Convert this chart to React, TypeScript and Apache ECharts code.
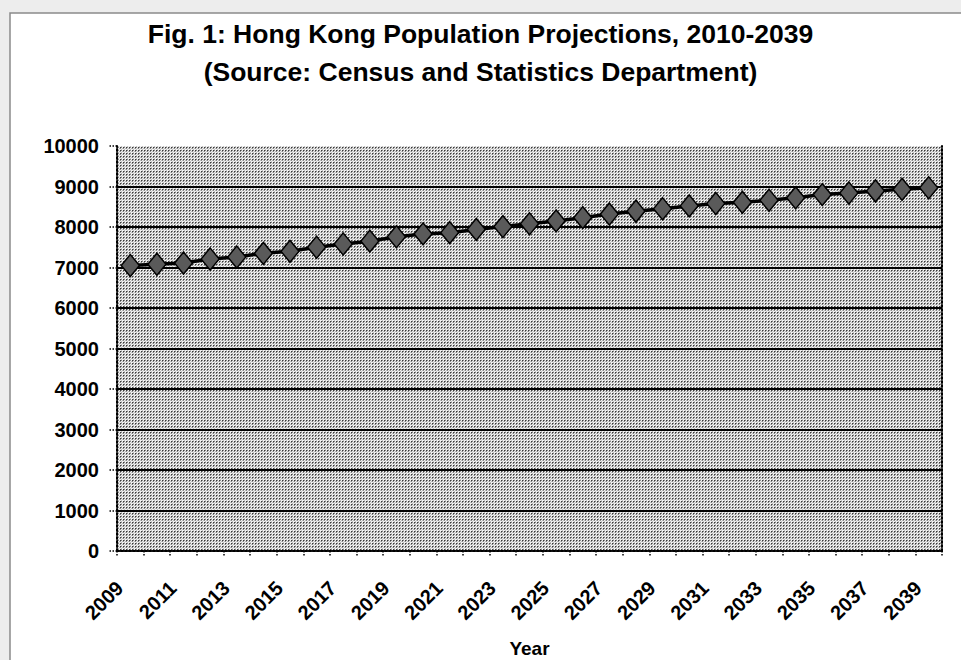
import React, { useEffect, useRef } from 'react';
import * as echarts from 'echarts';

const years = [
  '2009', '2010', '2011', '2012', '2013', '2014', '2015', '2016', '2017', '2018',
  '2019', '2020', '2021', '2022', '2023', '2024', '2025', '2026', '2027', '2028',
  '2029', '2030', '2031', '2032', '2033', '2034', '2035', '2036', '2037', '2038', '2039',
];

const population = [
  7050, 7080, 7110, 7210, 7260, 7350, 7400, 7500, 7580, 7650,
  7760, 7830, 7860, 7940, 8010, 8080, 8150, 8230, 8320, 8390,
  8450, 8520, 8580, 8610, 8660, 8720, 8800, 8840, 8890, 8930, 8970,
];

const yMin = 0;
const yMax = 10000;
const yStep = 1000;

const titleLines = [
  'Fig. 1: Hong Kong Population Projections, 2010-2039',
  '(Source: Census and Statistics Department)',
];

const FONT = '"Liberation Sans", Arial, sans-serif';

function makePattern(): HTMLCanvasElement {
  const c = document.createElement('canvas');
  c.width = 3;
  c.height = 3;
  const ctx = c.getContext('2d')!;
  ctx.fillStyle = '#f0f0f0';
  ctx.fillRect(0, 0, 3, 3);
  ctx.fillStyle = '#3a3a3a';
  ctx.fillRect(0, 0, 1, 1);
  ctx.fillStyle = '#8a8a8a';
  ctx.fillRect(1, 0, 1, 1);
  ctx.fillRect(0, 1, 1, 1);
  ctx.fillStyle = '#bdbdbd';
  ctx.fillRect(2, 1, 1, 1);
  ctx.fillRect(1, 2, 1, 1);
  return c;
}

export default function App() {
  const ref = useRef<HTMLDivElement>(null);

  useEffect(() => {
    if (!ref.current) return;
    const chart = echarts.init(ref.current, undefined, { renderer: 'svg' });
    const nLines = (yMax - yMin) / yStep + 1;
    const splitColors = Array.from({ length: nLines }, (_, i) =>
      i === 0 || i === nLines - 1 ? 'rgba(0,0,0,0)' : '#000'
    );
    chart.setOption({
      animation: false,
      backgroundColor: '#ededed',
      graphic: [
        {
          type: 'rect',
          z: -100,
          shape: { x: 10, y: 13, width: 960, height: 660 },
          style: { fill: '#ffffff', stroke: '#8a8a8a', lineWidth: 1.5 },
        },
      ],
      title: {
        text: titleLines.join('\n'),
        left: 'center',
        top: 10,
        textStyle: {
          fontFamily: FONT,
          fontSize: 26.5,
          fontWeight: 'bold',
          color: '#000',
          lineHeight: 38,
        },
      },
      grid: {
        left: 117,
        right: 19,
        top: 146,
        bottom: 109,
        containLabel: false,
        outerBoundsMode: 'none',
        show: true,
        borderWidth: 0,
        backgroundColor: { image: makePattern(), repeat: 'repeat' },
      },
      xAxis: [
        {
          type: 'category',
          data: years,
          boundaryGap: true,
          position: 'bottom',
          axisLine: { show: true, lineStyle: { color: '#000', width: 2, type: 'dotted' } },
          axisTick: { show: true, interval: 0, length: 6, lineStyle: { color: '#000', width: 1.5, type: 'dotted' } },
          axisLabel: {
            interval: 1,
            rotate: 45,
            margin: 23,
            padding: [0, 15, 0, 0],
            fontFamily: FONT,
            fontSize: 20,
            fontWeight: 'bold',
            color: '#000',
          },
          name: 'Year',
          nameLocation: 'middle',
          nameGap: 88,
          nameTextStyle: { fontFamily: FONT, fontSize: 19, fontWeight: 'bold', color: '#000' },
          splitLine: { show: false },
        },
        {
          type: 'category',
          data: years,
          position: 'top',
          axisLine: { show: true, lineStyle: { color: '#000', width: 2, type: 'dotted' } },
          axisTick: { show: false },
          axisLabel: { show: false },
          splitLine: { show: false },
        },
      ],
      yAxis: [
        {
          type: 'value',
          min: yMin,
          max: yMax,
          interval: yStep,
          position: 'left',
          axisLine: { show: true, lineStyle: { color: '#000', width: 2, type: 'dotted' } },
          axisTick: { show: true, length: 8, lineStyle: { color: '#000', width: 1.5, type: 'dotted' } },
          axisLabel: {
            margin: 18,
            fontFamily: FONT,
            fontSize: 20,
            fontWeight: 'bold',
            color: '#000',
            formatter: (v: number) => String(v),
          },
          splitLine: { show: true, lineStyle: { color: splitColors, width: 1.8 } },
        },
        {
          type: 'value',
          min: yMin,
          max: yMax,
          interval: yStep,
          position: 'right',
          axisLine: { show: true, lineStyle: { color: '#000', width: 2, type: 'dotted' } },
          axisTick: { show: false },
          axisLabel: { show: false },
          splitLine: { show: false },
        },
      ],
      series: [
        {
          type: 'line',
          data: population,
          xAxisIndex: 0,
          yAxisIndex: 0,
          symbol: 'diamond',
          showSymbol: true,
          showAllSymbol: true,
          symbolSize: [18, 22],
          itemStyle: { color: '#5a5a5a', borderColor: '#000', borderWidth: 1.5 },
          lineStyle: { color: '#000', width: 3.5 },
          z: 5,
        },
      ],
    });
    return () => chart.dispose();
  }, []);

  return (
    <div
      ref={ref}
      style={{ position: 'fixed', left: 0, top: 0, width: 961, height: 660 }}
    />
  );
}
